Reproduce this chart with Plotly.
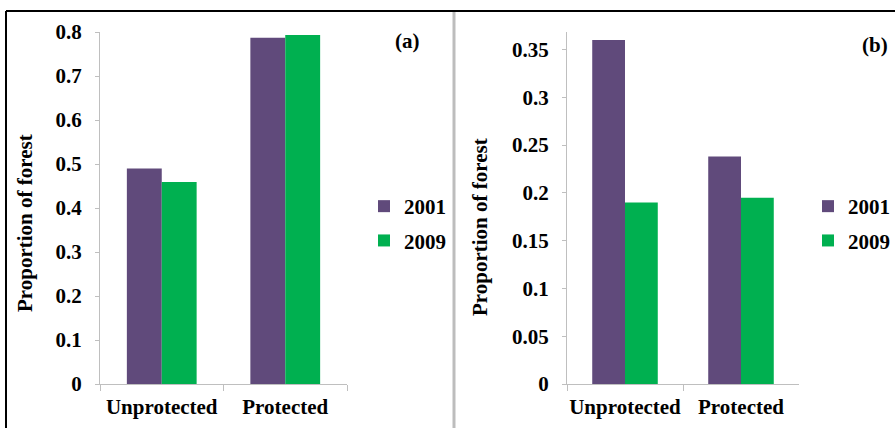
import plotly.graph_objects as go

categories = ["Unprotected", "Protected"]
years = ["2001", "2009"]
a_2001 = [0.49, 0.787]
a_2009 = [0.459, 0.793]
b_2001 = [0.36, 0.238]
b_2009 = [0.19, 0.195]

colors = {"2001": "#604a7b", "2009": "#00b050"}
W, H = 895, 428
FONT = "Liberation Serif, Times New Roman, serif"
AXC = "#bfbfbf"
FS = 21

def px(x):
    return x / W

def py(y):
    return 1 - y / H

fig = go.Figure()
for yr, vals in zip(years, [a_2001, a_2009]):
    fig.add_trace(go.Bar(x=categories, y=vals, name=yr, marker=dict(color=colors[yr], line=dict(width=0)),
                         xaxis="x", yaxis="y", legend="legend", legendgroup="a" + yr))
for yr, vals in zip(years, [b_2001, b_2009]):
    fig.add_trace(go.Bar(x=categories, y=vals, name=yr, marker=dict(color=colors[yr], line=dict(width=0)),
                         xaxis="x2", yaxis="y2", legend="legend2", legendgroup="b" + yr))

tickfont = dict(family=FONT, size=FS, color="black", weight="bold")
ydom = [py(384), py(32)]

common_x = dict(showline=True, linecolor=AXC, linewidth=1, ticks="outside", ticklen=6, tickcolor=AXC,
                tickson="boundaries", tickfont=tickfont, showgrid=False, zeroline=False, automargin=False,
                tickangle=0, ticklabelstandoff=4)
common_y = dict(showline=True, linecolor=AXC, linewidth=1, ticks="outside", ticklen=4, tickcolor=AXC,
                tickfont=tickfont, showgrid=False, zeroline=False, ticklabelstandoff=9, automargin=False)

legfont = dict(family=FONT, size=FS, color="black", weight="bold")
fig.update_layout(
    width=W, height=H, margin=dict(l=0, r=0, t=0, b=0, autoexpand=False),
    paper_bgcolor="white", plot_bgcolor="white",
    barmode="group", bargap=0.435, bargroupgap=0,
    xaxis=dict(domain=[px(100), px(347)], anchor="y", **common_x),
    yaxis=dict(domain=ydom, anchor="x", range=[0, 0.8], dtick=0.1, **common_y),
    xaxis2=dict(domain=[px(567), px(799)], anchor="y2", **common_x),
    yaxis2=dict(domain=ydom, anchor="x2", range=[0, 0.3684], dtick=0.05, **common_y),
    legend=dict(x=px(364), y=py(186), xanchor="left", yanchor="top", font=legfont,
                tracegroupgap=4, bgcolor="rgba(0,0,0,0)"),
    legend2=dict(x=px(808), y=py(186), xanchor="left", yanchor="top", font=legfont,
                 tracegroupgap=4, bgcolor="rgba(0,0,0,0)"),
    showlegend=True,
)

annots = [
    dict(text="(a)", x=px(407), y=py(41)),
    dict(text="(b)", x=px(875), y=py(45)),
    dict(text="Proportion of forest", x=px(25), y=py(223), textangle=-90),
    dict(text="Proportion of forest", x=px(480), y=py(227), textangle=-90),
]
for a in annots:
    fig.add_annotation(xref="paper", yref="paper", showarrow=False, xanchor="center", yanchor="middle",
                       font=dict(family=FONT, size=FS, color="black", weight="bold"), **a)

# frame lines
fig.add_shape(type="line", xref="paper", yref="paper", x0=px(6), x1=1, y0=py(11), y1=py(11), line=dict(color="black", width=2))
fig.add_shape(type="line", xref="paper", yref="paper", x0=px(6), x1=px(6), y0=py(11), y1=0, line=dict(color="black", width=2))
fig.add_shape(type="line", xref="paper", yref="paper", x0=px(454), x1=px(454), y0=py(12), y1=0, line=dict(color="#bdbdbd", width=3))

fig.write_html("out.html", config={"displayModeBar": False},
               post_script="document.body.style.margin='0';document.body.style.overflow='hidden';")
